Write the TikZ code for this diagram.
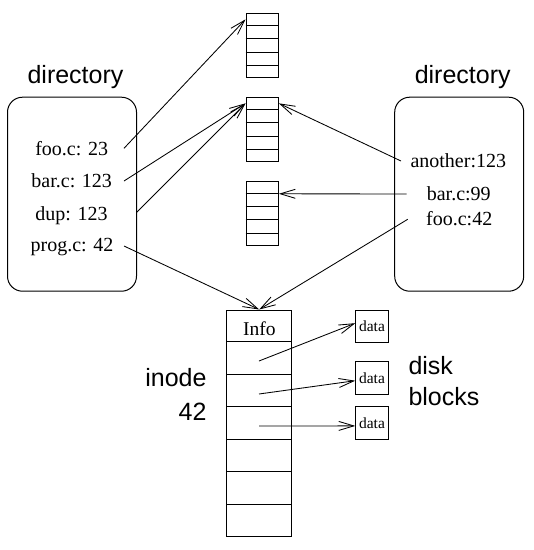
\documentclass[tikz,border=0pt]{standalone}
\usepackage{fontspec}
\setmainfont{Liberation Serif}
\newfontfamily\hvfont{Liberation Sans}
\usetikzlibrary{arrows.meta,calc}
\begin{document}
\begin{tikzpicture}[x=1pt,y=-1pt,
  lbl/.style={font=\hvfont\fontsize{25}{30}\selectfont, inner sep=0pt, anchor=base},
  item/.style={font=\fontsize{20}{24}\selectfont, inner sep=0pt, anchor=base},
  dirbox/.style={draw, rounded corners=15pt, minimum width=129pt, minimum height=194pt, inner sep=0pt, line width=1pt},
  stackbox/.style={draw, minimum width=32.3pt, minimum height=64.4pt, inner sep=0pt, line width=1pt},
  databox/.style={draw, minimum width=32.5pt, minimum height=32.3pt, inner sep=0pt, line width=1pt, font=\fontsize{15.5}{18}\selectfont},
  inodebox/.style={draw, minimum width=65pt, minimum height=226pt, inner sep=0pt, line width=1pt},
  ptr/.style={-{Straight Barb[length=15pt,width=9pt]}, line width=0.85pt},
  cellline/.style={line width=1pt}
]
\useasboundingbox (0,0) rectangle (534,550);

% directory boxes
\node[dirbox] (ldir) at (72,194.2) {};
\node[dirbox] (rdir) at (459.2,194.2) {};
\node[lbl] (ldirl) at (75.5,83.3) {directory};
\node[lbl] (rdirl) at (462.7,83.3) {directory};

% left items
\node[item] (foo) at (71.7,155) {foo.c: 23};
\node[item] (bar) at (71.7,187.7) {bar.c: 123};
\node[item] (dup) at (71.5,220) {dup: 123};
\node[item] (prog) at (72,251.7) {prog.c: 42};

% right items
\node[item] (another) at (458.3,167.7) {another:123};
\node[item] (rbar) at (458.8,200) {bar.c:99};
\node[item] (rfoo) at (459.2,225) {foo.c:42};

% small stacks
\node[stackbox] (s1) at (262.2,45.5) {};
\node[stackbox] (s2) at (262.2,129.5) {};
\node[stackbox] (s3) at (262.2,213.4) {};
\foreach \s in {s1,s2,s3}
  \foreach \k in {1,...,4}
    \draw[cellline] ($(\s.north west)!\k/5!(\s.south west)$) -- ($(\s.north east)!\k/5!(\s.south east)$);

% inode
\node[inodebox] (ino) at (259.2,423) {};
\foreach \k in {1,...,6}
  \draw[cellline] ($(ino.north west)!\k/7!(ino.south west)$) -- ($(ino.north east)!\k/7!(ino.south east)$);
\node[item, font=\fontsize{19.5}{23}\selectfont] (info) at (259.3,335.7) {Info};
\node[lbl, anchor=base east] (inodel) at (206.7,386.7) {inode};
\node[lbl, anchor=base east] (inodenum) at (206.7,420.7) {42};

% data blocks
\node[databox] (d1) at (372,326.2) {data};
\node[databox] (d2) at (372,377.9) {data};
\node[databox] (d3) at (372,422.9) {data};
\node[lbl, anchor=base west] (disk) at (408.3,374) {disk};
\node[lbl, anchor=base west] (blocks) at (408.3,405.7) {blocks};

% connector end points
\coordinate (pfoo) at (124,148.3);
\coordinate (pbar) at (124,181);
\coordinate (pdup) at (136.7,212.3);
\coordinate (pprog) at (124,246);
\coordinate (panother) at (401,161);
\coordinate (prbar) at (406.7,194);
\coordinate (prfoo) at (407.7,219.3);
\coordinate (c2) at (259,361);
\coordinate (c3) at (259,394);
\coordinate (c4) at (259,426);
\coordinate (s1in) at ($(s1.north west)!0.1!(s1.south west)$);
\coordinate (s2in) at ($(s2.north west)!0.1!(s2.south west)$);
\coordinate (s2inr) at ($(s2.north east)!0.1!(s2.south east)$);
\coordinate (s3inr) at ($(s3.north east)!0.2!(s3.south east)$);
\coordinate (d1in) at ($(d1.west)+(0,-3)$);
\coordinate (d2in) at ($(d2.west)+(0,2.8)$);
\coordinate (d3in) at ($(d3.west)+(0,3)$);

% connectors
\draw[ptr] (pfoo) -- (s1in);
\draw[ptr] (pbar) -- (s2in);
\draw[ptr] (pdup) -- (s2in);
\draw[ptr] (pprog) -- (ino.north);
\draw[ptr] (panother) -- (s2inr);
\draw[ptr] (prbar) -- (s3inr);
\draw[ptr] (prfoo) -- (ino.north);
\draw[ptr] (c2) -- (d1in);
\draw[ptr] (c3) -- (d2in);
\draw[ptr] (c4) -- (d3in);
\end{tikzpicture}
\end{document}
